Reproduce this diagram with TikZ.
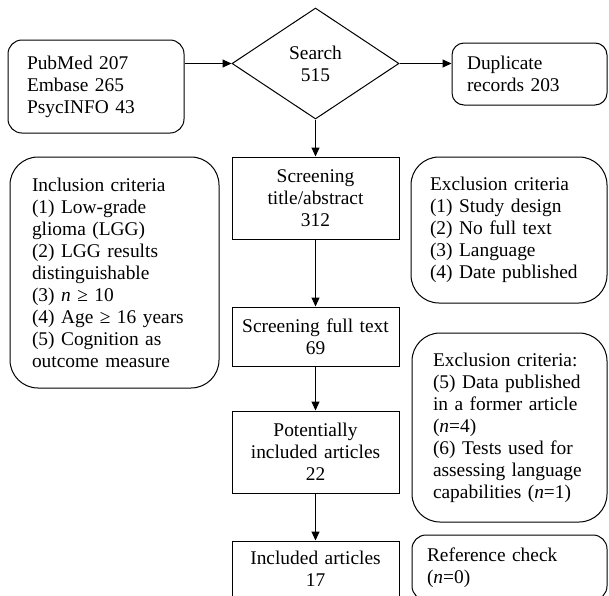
\documentclass[tikz,border=0pt]{standalone}
\usepackage{fontspec}
\setmainfont{Liberation Serif}
\usetikzlibrary{shapes.geometric,arrows.meta}
\begin{document}
\begin{tikzpicture}[x=1pt,y=-1pt,
  every node/.style={font=\fontsize{19.4pt}{22pt}\selectfont, inner ysep=0pt},
  rbox/.style={draw, rounded corners=#1, line width=1pt, align=left},
  sbox/.style={draw, line width=1pt, align=center, inner xsep=4pt, text width=159pt, minimum width=167pt},
  arr/.style={line width=1pt, -{Triangle[length=9pt,width=8pt]}}]
\clip (0,0) rectangle (609,595);
\useasboundingbox (0,0) rectangle (609,595);
% top row
\node[rbox=14pt, minimum width=176pt, minimum height=93pt, inner xsep=19pt, text width=138pt] (src) at (96,86.5) {PubMed 207\\Embase 265\\PsycINFO 43};
\node[diamond, draw, line width=1pt, minimum width=167pt, minimum height=111pt, inner sep=0pt, align=center] (search) at (315.5,63.5) {Search\\515};
\node[rbox=12pt, minimum width=155pt, minimum height=62pt, inner xsep=15pt, text width=125pt] (dup) at (529.5,74) {Duplicate\\records 203};
% main column
\node[sbox, minimum height=82pt] (s1) at (315.5,198) {Screening\\title/abstract\\312};
\node[sbox, minimum height=59pt] (s2) at (315.5,336.5) {Screening full text\\69};
\node[sbox, minimum height=82pt] (s3) at (315.5,452) {Potentially\\included articles\\22};
\node[sbox, minimum height=56pt] (s4) at (315.5,569) {Included articles\\17};
% side boxes
\node[rbox=28pt, minimum width=209pt, minimum height=231pt, inner xsep=22pt, text width=165pt] (incl) at (114.5,272.5) {Inclusion criteria\\(1) Low-grade\\glioma (LGG)\\(2) LGG results\\distinguishable\\(3) \textit{n} ≥ 10\\(4) Age ≥ 16 years\\(5) Cognition as\\outcome measure};
\node[rbox=28pt, minimum width=196pt, minimum height=146pt, inner xsep=19pt, text width=158pt] (exc1) at (509,230) {Exclusion criteria\\(1) Study design\\(2) No full text\\(3) Language\\(4) Date published};
\node[rbox=28pt, minimum width=195pt, minimum height=189pt, inner xsep=21pt, text width=153pt] (exc2) at (509.5,427.5) {Exclusion criteria:\\(5) Data published\\in a former article\\(\textit{n}=4)\\(6) Tests used for\\assessing language\\capabilities (\textit{n}=1)};
\node[rbox=14pt, minimum width=195pt, minimum height=65pt, inner xsep=15pt, text width=165pt] (ref) at (509.5,567.5) {Reference check\\(\textit{n}=0)};
% connectors
\draw[arr] (src.east |- search.west) -- (search.west);
\draw[arr] (search.east) -- (search.east -| dup.west);
\draw[arr] (search.south) -- (s1.north);
\draw[arr] (s1.south) -- (s2.north);
\draw[arr] (s2.south) -- (s3.north);
\draw[arr] (s3.south) -- (s4.north);
\end{tikzpicture}
\end{document}
